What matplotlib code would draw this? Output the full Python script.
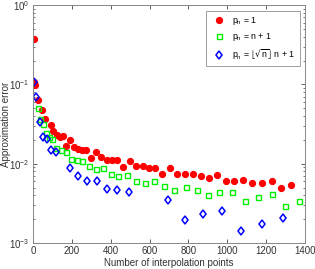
import matplotlib
matplotlib.use('Agg')
import matplotlib.pyplot as plt
import numpy as np

plt.rcParams['font.family'] = ['Liberation Sans', 'DejaVu Sans']
plt.rcParams['mathtext.default'] = 'regular'

# p_n = 1
RED_X = [3, 7, 12, 27, 45, 62, 92, 104, 125, 140, 152, 171, 192, 209, 232, 254, 275,
         300, 326, 351, 379, 406, 434, 465, 497, 529, 564, 597, 628, 666, 705, 743,
         782, 822, 863, 906, 949, 991, 1034, 1082, 1128, 1177, 1228, 1276, 1328]
RED_Y = [0.37, 0.107, 0.097, 0.063, 0.048, 0.037, 0.0305, 0.0255, 0.023, 0.0215, 0.022,
         0.0166, 0.0200, 0.0163, 0.0152, 0.0148, 0.0149, 0.0119, 0.0141, 0.0121, 0.0112,
         0.0112, 0.0112, 0.0091, 0.0107, 0.0093, 0.0093, 0.0088, 0.0087, 0.0075, 0.0087,
         0.0075, 0.0075, 0.0074, 0.0070, 0.0065, 0.0071, 0.0060, 0.0060, 0.0062, 0.0057,
         0.0057, 0.0060, 0.0050, 0.0053]

# p_n = n + 1
GREEN_X = [24, 36, 50, 65, 82, 99, 120, 142, 168, 194, 226, 252, 288, 324, 360, 399,
           437, 485, 530, 576, 624, 676, 727, 785, 842, 901, 960, 1026, 1091, 1156,
           1228, 1297, 1371]
GREEN_Y = [0.050, 0.037, 0.032, 0.0245, 0.0218, 0.0204, 0.0159, 0.0148, 0.0141, 0.0114,
           0.0110, 0.0108, 0.0093, 0.0086, 0.0089, 0.0075, 0.0070, 0.0071, 0.0060,
           0.0057, 0.0060, 0.0052, 0.00466, 0.0051, 0.0047, 0.0040, 0.0044, 0.0044,
           0.00338, 0.0038, 0.0041, 0.0029, 0.00338]

# p_n = floor(sqrt(n)) n + 1
BLUE_X = [5, 15, 36, 50, 70, 91, 116, 190, 230, 276, 327, 379, 434, 496, 697, 782,
          874, 971, 1071, 1177, 1288]
BLUE_Y = [0.108, 0.069, 0.034, 0.0218, 0.0204, 0.0148, 0.0141, 0.0087, 0.0070, 0.0060,
          0.0060, 0.00475, 0.0047, 0.0044, 0.00345, 0.00197, 0.00234, 0.0025, 0.00142,
          0.00172, 0.00209]

fig = plt.figure(figsize=(3.15, 2.69), dpi=100)
ax = fig.add_axes([0.105, 0.097, 0.863, 0.884])

ax.plot(RED_X, RED_Y, 'o', color='red', markersize=4.4, markeredgewidth=0.8,
        label=r'$p_n$ = 1')
ax.plot(GREEN_X, GREEN_Y, 's', color='#00ee00', markerfacecolor='none', markersize=3.6,
        markeredgewidth=1.0, label=r'$p_n$ = n + 1')
ax.plot(BLUE_X, BLUE_Y, 'd', color='blue', markerfacecolor='none', markersize=4.5,
        markeredgewidth=1.1, label=r'$p_n$ = $\lfloor\sqrt{n}\rfloor$ n + 1')

ax.set_yscale('log')
ax.set_xlim(0, 1400)
ax.set_ylim(1e-3, 1)
ax.set_xticks(np.arange(0, 1401, 200))

ax.tick_params(which='both', direction='in', top=True, right=True, labelsize=7,
               colors='#444444', labelcolor='#333333')
ax.tick_params(which='major', length=3, width=0.6, pad=2.5)
ax.tick_params(which='minor', length=1.6, width=0.5)
for s in ax.spines.values():
    s.set_color('#888888')
    s.set_linewidth(0.7)

ax.set_xlabel('Number of interpolation points', fontsize=7, color='#333333', labelpad=1)
ax.set_ylabel('Approximation error', fontsize=7, color='#333333')
ax.yaxis.set_label_coords(-0.082, 0.5)

leg = ax.legend(loc='upper right', bbox_to_anchor=(0.982, 0.975), fontsize=6.3,
                frameon=True, fancybox=False, edgecolor='#888888', borderpad=0.5,
                handletextpad=0.5, labelspacing=0.45, handlelength=2.0, borderaxespad=0)
leg.get_frame().set_linewidth(0.7)

fig.savefig('out.png', dpi=100)
